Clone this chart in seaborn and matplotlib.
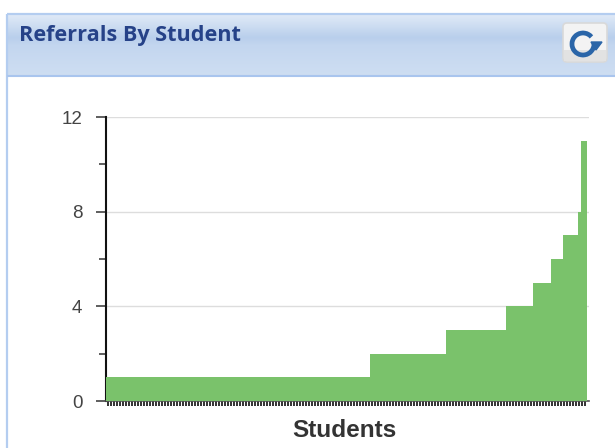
import numpy as np
import pandas as pd
import seaborn as sns
import matplotlib.pyplot as plt
import matplotlib.colors as mcolors
from matplotlib.patches import Arc, FancyBboxPatch, Polygon, Rectangle

referrals = [
    1, 1, 1, 1, 1, 1, 1, 1, 1, 1, 1, 1, 1, 1, 1, 1, 1, 1, 1, 1, 1, 1,
    1, 1, 1, 1, 1, 1, 1, 1, 1, 1, 1, 1, 1, 1, 1, 1, 1, 1, 1, 1, 1, 1,
    1, 1, 1, 1, 1, 1, 1, 1, 1, 1, 1, 1, 1, 1, 1, 1, 1, 1, 1, 1, 1, 1,
    1, 1, 1, 1, 1, 1, 1, 1, 1, 1, 1, 1, 1, 1, 1, 1, 1, 1, 1, 1, 1, 1,
    2, 2, 2, 2, 2, 2, 2, 2, 2, 2, 2, 2, 2, 2, 2, 2, 2, 2, 2, 2, 2, 2, 2, 2, 2,
    3, 3, 3, 3, 3, 3, 3, 3, 3, 3, 3, 3, 3, 3, 3, 3, 3, 3, 3, 3,
    4, 4, 4, 4, 4, 4, 4, 4, 4,
    5, 5, 5, 5, 5, 5,
    6, 6, 6, 6,
    7, 7, 7, 7, 7,
    8,
    11, 11,
]
y_major = [0, 4, 8, 12]
y_minor = [2, 6, 10]

W, H = 615, 448
sns.set_style("white")
plt.rcParams['font.family'] = ['Liberation Sans', 'DejaVu Sans']

df = pd.DataFrame({"student": range(len(referrals)), "referrals": referrals})

fig = plt.figure(figsize=(W / 100, H / 100), dpi=100)

# panel chrome, in pixel coordinates
bg = fig.add_axes([0, 0, 1, 1], zorder=0)
cmap = mcolors.LinearSegmentedColormap.from_list(
    "header", [(0, "#e0eaf7"), (0.38, "#b9cfec"), (0.5, "#c3d6ef"), (1, "#cedef2")])
bg.imshow(np.linspace(0, 1, 64).reshape(-1, 1), cmap=cmap, aspect="auto",
          extent=(8, W, 76, 14), zorder=1)
bg.set_xlim(0, W)
bg.set_ylim(H, 0)
bg.axis("off")
bg.add_patch(Rectangle((7, 14), W, 500, fill=False, ec="#b4cdf0", lw=1.6, zorder=2))
bg.plot([8, W], [76, 76], color="#a9c5ee", lw=1.5, zorder=2)
bg.text(19, 35, "Referrals By Student", family="Open Sans", fontweight="bold",
        fontsize=15.6, color="#264288", va="center", ha="left", zorder=3)

# refresh button
bg.add_patch(FancyBboxPatch((563, 23), 44, 39, boxstyle="round,pad=0,rounding_size=4",
                            fc="#f3f3f3", ec="#d9d9d9", lw=1.2, zorder=3))
bg.add_patch(Rectangle((564, 50), 42, 11, fc="#e2e2e2", ec="none", zorder=3))
bg.add_patch(Arc((583, 44), 22, 22, theta1=0, theta2=320, color="#2a65a8", lw=3.4, zorder=4))
bg.add_patch(Polygon([(591, 42), (602, 42), (596, 50)], color="#2a65a8", zorder=4))

ax = fig.add_axes([106 / W, (H - 401) / H, (589 - 106) / W, 284 / H], zorder=1)
ax.patch.set_alpha(0)
sns.barplot(data=df, x="student", y="referrals", color="#7ac26b", saturation=1,
            width=1, linewidth=0, ax=ax, zorder=3)

ax.set_xlim(-0.5, len(referrals) - 0.5 + 0.7)
ax.set_ylim(0, 12)
ax.set_yticks(y_major)
ax.set_yticks(y_minor, minor=True)
ax.yaxis.grid(True, which="major", color="#dddddd", lw=1.0, zorder=1)
ax.set_axisbelow(True)
ax.set_xticks(df["student"])
ax.set_xticklabels([])
ax.tick_params(axis="x", length=3.5, width=1.3, color="#222222", bottom=True, pad=2)
ax.tick_params(axis="y", which="major", length=7.5, width=1.1, color="#333333", left=True,
               labelsize=13.5, labelcolor="#444444", pad=9.5)
ax.tick_params(axis="y", which="minor", length=5, width=1.1, color="#333333", left=True)
ax.set_xlabel("Students", fontsize=17.6, fontweight="bold", color="#333333", labelpad=9)
ax.xaxis.set_label_coords((344.5 - 106) / (589 - 106), -0.063)
ax.set_ylabel("")
for side in ["top", "right"]:
    ax.spines[side].set_visible(False)
ax.spines["left"].set_color("#111111")
ax.spines["left"].set_linewidth(1.5)
ax.spines["bottom"].set_color("#555555")
ax.spines["bottom"].set_linewidth(1.2)

fig.savefig("out.png", dpi=100)
